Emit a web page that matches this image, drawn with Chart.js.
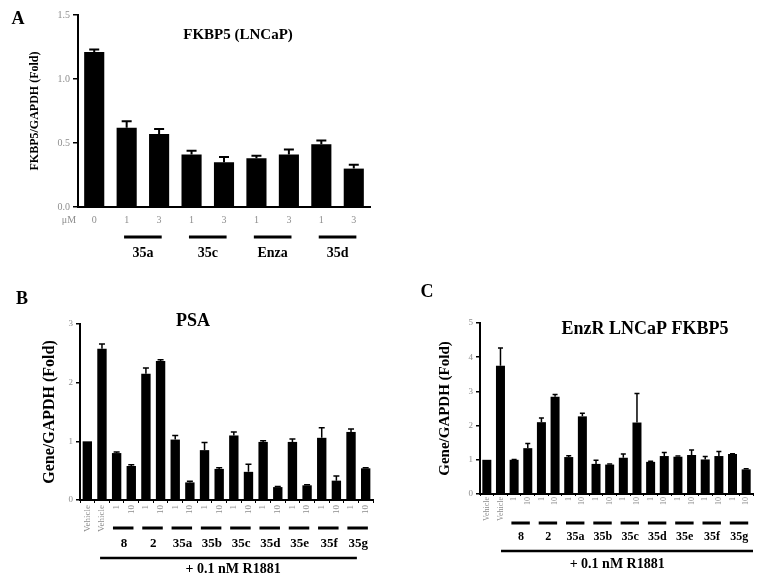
<!DOCTYPE html>
<html><head><meta charset="utf-8">
<script src="https://cdn.jsdelivr.net/npm/chart.js@4.4.0/dist/chart.umd.min.js"></script>
<style>
html,body{margin:0;padding:0;background:#fff;}
body{width:774px;height:581px;position:relative;overflow:hidden;}
.p{position:absolute;}
canvas{display:block;}
</style></head><body>
<div class="p" style="left:0;top:0;width:380px;height:280px"><canvas id="cA" width="380" height="280" style="width:380px;height:280px"></canvas></div>
<div class="p" style="left:0;top:280px;width:390px;height:301px"><canvas id="cB" width="390" height="301" style="width:390px;height:301px"></canvas></div>
<div class="p" style="left:400px;top:280px;width:374px;height:301px"><canvas id="cC" width="374" height="301" style="width:374px;height:301px"></canvas></div>
<script>
// ---------- Panel A data ----------
const aLabels = ["0", "1", "3", "1", "3", "1", "3", "1", "3"];
const aValues = [1.21, 0.62, 0.57, 0.41, 0.35, 0.38, 0.41, 0.49, 0.30];
const aErrTop = [1.23, 0.67, 0.61, 0.44, 0.39, 0.40, 0.45, 0.52, 0.33];
const aGroups = ["35a", "35c", "Enza", "35d"];

// ---------- Panel B data ----------
const bLabels = ["Vehicle", "Vehicle", "1", "10", "1", "10", "1", "10", "1", "10", "1", "10", "1", "10", "1", "10", "1", "10", "1", "10"];
const bValues = [1.00, 2.58, 0.80, 0.58, 2.15, 2.37, 1.03, 0.30, 0.85, 0.53, 1.10, 0.48, 0.99, 0.22, 0.99, 0.25, 1.06, 0.33, 1.16, 0.54];
const bErrTop = [1.00, 2.66, 0.82, 0.60, 2.25, 2.39, 1.10, 0.32, 0.98, 0.55, 1.16, 0.61, 1.01, 0.23, 1.04, 0.26, 1.23, 0.41, 1.21, 0.55];
const bGroups = ["8", "2", "35a", "35b", "35c", "35d", "35e", "35f", "35g"];

// ---------- Panel C data ----------
const cLabels = ["Vehicle", "Vehicle", "1", "10", "1", "10", "1", "10", "1", "10", "1", "10", "1", "10", "1", "10", "1", "10", "1", "10"];
const cValues = [1.00, 3.75, 1.00, 1.34, 2.10, 2.84, 1.08, 2.27, 0.88, 0.86, 1.06, 2.09, 0.94, 1.11, 1.09, 1.14, 1.01, 1.11, 1.17, 0.72];
const cErrTop = [1.00, 4.27, 1.01, 1.48, 2.22, 2.91, 1.12, 2.36, 0.99, 0.88, 1.17, 2.94, 0.96, 1.21, 1.11, 1.29, 1.10, 1.24, 1.18, 0.74];
const cGroups = ["8", "2", "35a", "35b", "35c", "35d", "35e", "35f", "35g"];

const treatmentText = "+ 0.1 nM R1881";

const SERIF = "'Liberation Serif', 'DejaVu Serif', serif";
const GRAY = "#8e8e8e";

const decor = {
  id: 'decor',
  afterDatasetsDraw(chart, args, o) {
    const ctx = chart.ctx, x = chart.scales.x, y = chart.scales.y;
    const vals = chart.data.datasets[0].data;
    ctx.save();
    // error bars
    ctx.strokeStyle = '#000';
    ctx.lineWidth = o.errWidth;
    o.errors.forEach((e, i) => {
      if (e == null || e <= vals[i] + 0.005) return;
      const px = x.getPixelForValue(i);
      const y0 = y.getPixelForValue(vals[i]);
      const y1 = y.getPixelForValue(e);
      ctx.beginPath();
      ctx.moveTo(px, y0); ctx.lineTo(px, y1);
      ctx.moveTo(px - o.cap / 2, y1); ctx.lineTo(px + o.cap / 2, y1);
      ctx.stroke();
    });
    // group lines + labels
    ctx.fillStyle = '#000';
    ctx.font = o.groupFont;
    ctx.textAlign = 'center';
    ctx.textBaseline = 'middle';
    o.groups.forEach((g, k) => {
      const a = o.groupStart + 2 * k, b = a + 1;
      const xa = x.getPixelForValue(a - o.extL), xb = x.getPixelForValue(b + o.extR);
      ctx.lineWidth = o.groupLineW;
      ctx.beginPath(); ctx.moveTo(xa, o.groupLineY); ctx.lineTo(xb, o.groupLineY); ctx.stroke();
      ctx.fillText(g, (x.getPixelForValue(a) + x.getPixelForValue(b)) / 2, o.groupLabelY);
    });
    // long treatment line
    if (o.longLine) {
      const L = o.longLine;
      ctx.lineWidth = L.w;
      ctx.beginPath();
      ctx.moveTo(x.getPixelForValue(L.from), L.y);
      ctx.lineTo(x.getPixelForValue(L.to), L.y);
      ctx.stroke();
      ctx.font = L.font;
      ctx.fillText(treatmentText, x.getPixelForValue(L.textAt), L.textY);
    }
    // unit label
    if (o.unit) {
      ctx.fillStyle = GRAY;
      ctx.font = o.unit.font;
      ctx.fillText(o.unit.text, chart.chartArea.left + o.unit.dx, o.unit.y);
    }
    // panel letter + title
    ctx.fillStyle = '#000';
    ctx.font = o.letterFont;
    ctx.fillText(o.letter, o.letterX, o.letterY);
    ctx.font = o.titleFont;
    ctx.fillText(o.title, o.titleX, o.titleY);
    ctx.restore();
  }
};

function makeChart(id, labels, values, cfg) {
  return new Chart(document.getElementById(id), {
    type: 'bar',
    data: {
      labels: labels,
      datasets: [{
        data: values,
        backgroundColor: '#000',
        borderWidth: 0,
        barPercentage: cfg.barPct,
        categoryPercentage: 1.0
      }]
    },
    options: {
      responsive: false,
      animation: false,
      devicePixelRatio: 1,
      layout: { padding: cfg.padding },
      plugins: {
        legend: { display: false },
        tooltip: { enabled: false },
        decor: cfg.decor
      },
      scales: {
        x: {
          grid: cfg.xGrid,
          border: { display: true, color: '#000', width: 2 },
          ticks: {
            autoSkip: false,
            minRotation: cfg.xRot, maxRotation: cfg.xRot,
            padding: cfg.xPad,
            color: GRAY,
            font: { family: SERIF, size: cfg.xFont }
          },
          afterFit: s => { s.height = cfg.xHeight; }
        },
        y: {
          min: 0, max: cfg.yMax,
          grid: { display: true, drawOnChartArea: false, drawTicks: true, tickLength: cfg.yTick, color: '#000', lineWidth: 1.5 },
          border: { display: true, color: '#000', width: 2 },
          ticks: {
            stepSize: cfg.yStep,
            padding: 3,
            color: GRAY,
            font: { family: SERIF, size: cfg.yFont },
            callback: v => cfg.yFmt(v)
          },
          title: {
            display: true,
            text: cfg.yTitle,
            color: '#000',
            font: { family: SERIF, size: cfg.yTitleSize, weight: 'bold', lineHeight: 1 },
            padding: { top: cfg.yTitlePad, bottom: 0 }
          },
          afterFit: s => { s.width = cfg.yWidth; }
        }
      }
    },
    plugins: [decor]
  });
}

makeChart('cA', aLabels, aValues, {
  barPct: 0.62,
  padding: { top: 15, right: 10, left: 0, bottom: 0 },
  xGrid: { display: false, drawTicks: false },
  xRot: 0, xPad: 7, xFont: 10, xHeight: 73,
  yMax: 1.5, yStep: 0.5, yTick: 5, yFont: 10, yFmt: v => v.toFixed(1),
  yTitle: 'FKBP5/GAPDH (Fold)', yTitleSize: 12, yTitlePad: 29, yWidth: 78,
  decor: {
    errors: aErrTop, errWidth: 2, cap: 10,
    groups: aGroups, groupStart: 1, extL: 0.08, extR: 0.08,
    groupFont: "bold 14px " + SERIF, groupLineW: 3, groupLineY: 237, groupLabelY: 253,
    unit: { text: 'μM', font: "10px " + SERIF, dx: -9, y: 220 },
    letter: 'A', letterFont: "bold 18px " + SERIF, letterX: 18, letterY: 19,
    title: 'FKBP5 (LNCaP)', titleFont: "bold 15px " + SERIF, titleX: 238, titleY: 35
  }
});

makeChart('cB', bLabels, bValues, {
  barPct: 0.64,
  padding: { top: 44, right: 17, left: 0, bottom: 0 },
  xGrid: { display: true, drawOnChartArea: false, drawTicks: true, tickLength: 3, color: '#000', lineWidth: 1 },
  xRot: 90, xPad: 2, xFont: 9, xHeight: 81,
  yMax: 3, yStep: 1, yTick: 4, yFont: 9, yFmt: v => String(v),
  yTitle: 'Gene/GAPDH (Fold)', yTitleSize: 16, yTitlePad: 42, yWidth: 80,
  decor: {
    errors: bErrTop, errWidth: 1.5, cap: 6,
    groups: bGroups, groupStart: 2, extL: 0.25, extR: 0.15,
    groupFont: "bold 13px " + SERIF, groupLineW: 3, groupLineY: 248, groupLabelY: 264,
    longLine: { from: 0.87, to: 18.4, y: 278, w: 2.5, textAt: 9.95, textY: 289, font: "bold 14px " + SERIF },
    letter: 'B', letterFont: "bold 18px " + SERIF, letterX: 22, letterY: 19,
    title: 'PSA', titleFont: "bold 18px " + SERIF, titleX: 193, titleY: 41
  }
});

makeChart('cC', cLabels, cValues, {
  barPct: 0.66,
  padding: { top: 43, right: 21, left: 0, bottom: 0 },
  xGrid: { display: true, drawOnChartArea: false, drawTicks: true, tickLength: 2, color: '#000', lineWidth: 1 },
  xRot: 90, xPad: 1, xFont: 8, xHeight: 87,
  yMax: 5, yStep: 1, yTick: 4, yFont: 9, yFmt: v => String(v),
  yTitle: 'Gene/GAPDH (Fold)', yTitleSize: 15, yTitlePad: 37.5, yWidth: 80,
  decor: {
    errors: cErrTop, errWidth: 1.5, cap: 5,
    groups: cGroups, groupStart: 2, extL: 0.2, extR: 0.15,
    groupFont: "bold 12px " + SERIF, groupLineW: 3, groupLineY: 243, groupLabelY: 257,
    longLine: { from: 1.04, to: 19.5, y: 271, w: 2.5, textAt: 9.55, textY: 284, font: "bold 14px " + SERIF },
    letter: 'C', letterFont: "bold 18px " + SERIF, letterX: 27, letterY: 12,
    title: 'EnzR LNCaP FKBP5', titleFont: "bold 18px " + SERIF, titleX: 245, titleY: 49
  }
});
</script>
</body></html>
